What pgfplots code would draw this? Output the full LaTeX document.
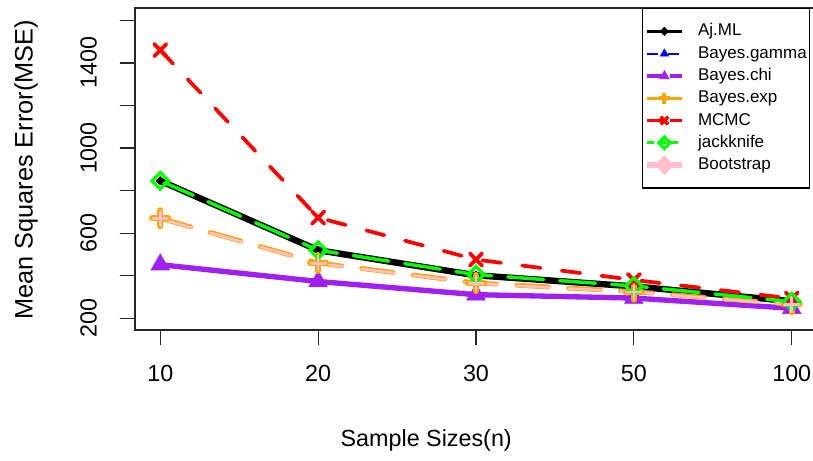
\documentclass[border=0pt]{standalone}
\usepackage{pgfplots}
\pgfplotsset{compat=1.18}
\usepackage{fontspec}
\setmainfont{Liberation Sans}
\setsansfont{Liberation Sans}

\definecolor{rpurple}{HTML}{A020F0}
\definecolor{rorange}{HTML}{FFA500}
\definecolor{rpink}{HTML}{FFC0CB}
\definecolor{rgreen}{HTML}{00FF00}
\definecolor{rblue}{HTML}{0000FF}
\definecolor{rred}{HTML}{FF0000}

\begin{document}
\begin{tikzpicture}
\begin{axis}[
    at={(0,0)}, anchor=south west,
    scale only axis,
    width=511.5pt, height=241.5pt,
    xmin=0.84, xmax=5.16,
    ymin=145, ymax=1658,
    xtick={1,2,3,4,5}, xticklabels={10,20,30,50,100},
    ytick={200,400,...,1600}, yticklabels={200,,600,,1000,,1400,},
    tick align=outside, major tick length=11pt,
    xtick pos=bottom, ytick pos=left,
    tick style={black!85, line width=0.9pt},
    axis line style={black!85, line width=0.9pt},
    ticklabel style={font=\fontsize{17.5}{20}\selectfont},
    xticklabel shift=11.5pt,
    yticklabel style={rotate=90, anchor=south},
    yticklabel shift=14pt,
    xlabel={Sample Sizes(n)},
    ylabel={Mean Squares Error(MSE)},
    xlabel style={font=\fontsize{17.5}{20}\selectfont, at={(axis description cs:0.427,-0.3416)}, anchor=center},
    ylabel style={font=\fontsize{19}{22}\selectfont, at={(axis description cs:-0.1598,0.497)}, anchor=center},
    legend style={at={(rel axis cs:0.9897,1)}, anchor=north east,
        draw=black, line width=0.9pt,
        font=\fontsize{12.75}{14}\selectfont,
        inner xsep=1pt, inner ysep=10pt, row sep=2.4pt,
        nodes={inner sep=1pt, text height=9.5pt, text depth=2.8pt},
        /tikz/column 2/.style={column sep=0pt},
        /tikz/column 1/.style={column sep=9pt}},
    legend cell align=left,
    legend image code/.code={\draw[mark repeat=2,mark phase=2,#1] plot coordinates {(0pt,0pt) (13pt,0pt) (26pt,0pt)};},
    legend image post style={line width=2.4pt},
    line cap=round,
]
% Aj.ML
\addplot[black, line width=4.8pt, mark=square*, mark size=2.2pt, mark options={rotate=45, line width=0.5pt}]
  coordinates {(1,846) (2,520) (3,402) (4,350) (5,280)};
\addlegendentry{Aj.ML}
% Bayes.gamma
\addplot[rblue, line width=1.5pt, dash pattern=on 8pt off 8pt, mark=triangle*, mark size=3.5pt, mark options={solid, line width=0.5pt},
  legend image post style={line width=1.5pt}]
  coordinates {(1,446) (2,368) (3,305) (4,291) (5,243)};
\addlegendentry{Bayes.gamma}
% Bayes.chi
\addplot[rpurple, line width=4pt, mark=triangle*, mark size=8pt, mark options={solid, line width=0.5pt},
  legend image post style={mark size=4pt, dash pattern=on 12pt off 5pt}]
  coordinates {(1,452) (2,373) (3,311) (4,295) (5,247)};
\addlegendentry{Bayes.chi}
% Bayes.exp
\addplot[rorange, line width=3.6pt, dash pattern=on 24pt off 15pt, mark=+, mark size=6pt, mark options={solid, line width=4.6pt},
  legend image post style={mark size=4pt, mark options={line width=3pt}, dash pattern=on 12pt off 5pt}]
  coordinates {(1,670) (2,460) (3,366) (4,325) (5,266)};
\addlegendentry{Bayes.exp}
% MCMC
\addplot[rred, line width=2.8pt, dash pattern=on 14pt off 16pt, mark=x, mark size=6.5pt, mark options={solid, line width=2.8pt},
  legend image post style={mark size=4pt, dash pattern=on 12pt off 5pt}]
  coordinates {(1,1460) (2,673) (3,476) (4,380) (5,293)};
\addlegendentry{MCMC}
% jackknife
\addplot[rgreen, line width=2.6pt, dash pattern=on 27pt off 12pt, mark=square, mark size=4.4pt, mark options={solid, rotate=45, line width=2.4pt},
  legend image post style={mark size=3pt, dash pattern=on 5pt off 4pt}]
  coordinates {(1,846) (2,520) (3,405) (4,352) (5,278)};
\addlegendentry{jackknife}
% Bootstrap
\addplot[rpink, line width=2pt, dash pattern=on 25pt off 14pt, mark=+, mark size=5.5pt, mark options={solid, line width=2pt},
  legend image post style={line width=4.5pt, solid, mark=square*, mark size=5pt, mark options={rotate=45, solid, line width=0.5pt}}]
  coordinates {(1,668) (2,458) (3,364) (4,323) (5,264)};
\addlegendentry{Bootstrap}
\end{axis}
\pgfresetboundingbox
\useasboundingbox (-101.25pt,-97.5pt) rectangle (508.5pt,247.5pt);
\end{tikzpicture}
\end{document}
